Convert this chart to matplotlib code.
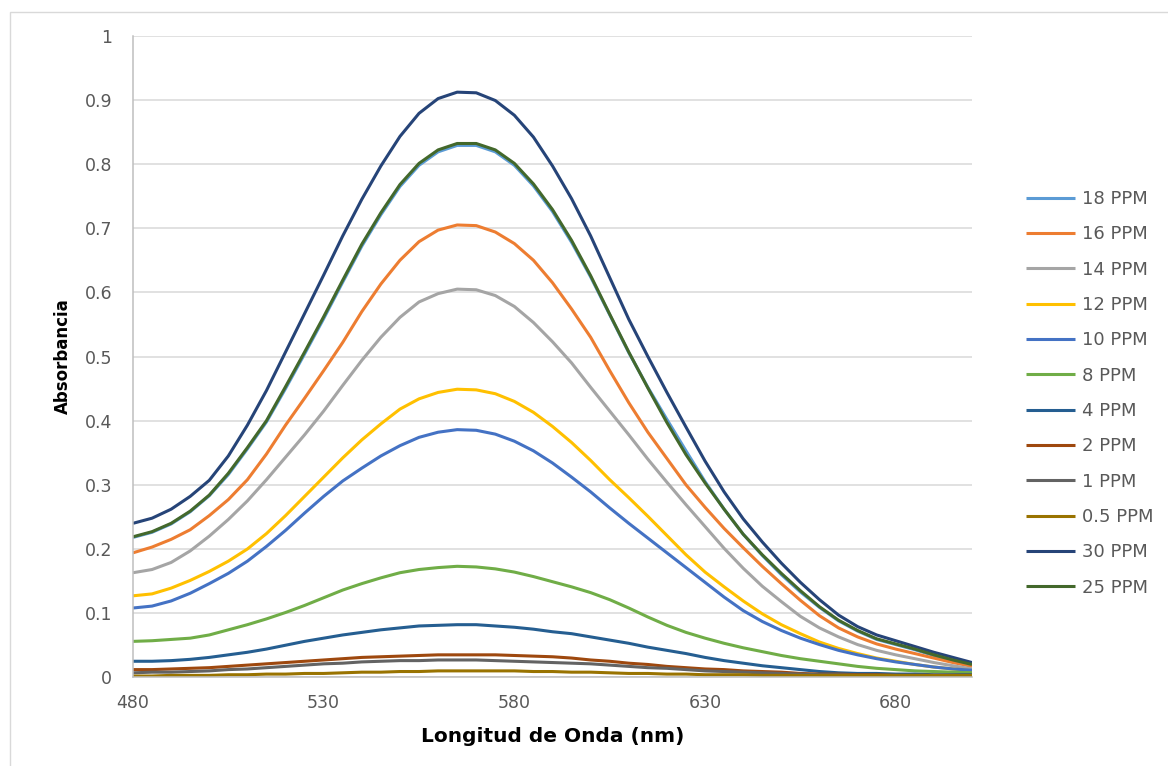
import matplotlib
matplotlib.use("Agg")
import matplotlib.pyplot as plt
from matplotlib.patches import Rectangle

# longitud de onda (nm), paso de 5 nm
wavelength = list(range(480, 705, 5))

ppm_18 = [0.218, 0.226, 0.239, 0.258, 0.283, 0.316, 0.356, 0.398, 0.450, 0.504,
          0.559, 0.616, 0.672, 0.721, 0.765, 0.798, 0.819, 0.829, 0.829, 0.819,
          0.798, 0.766, 0.726, 0.678, 0.624, 0.565, 0.506, 0.452, 0.402, 0.353,
          0.305, 0.262, 0.223, 0.190, 0.160, 0.133, 0.109, 0.088, 0.072, 0.059,
          0.051, 0.043, 0.034, 0.026, 0.019]
ppm_16 = [0.194, 0.203, 0.215, 0.230, 0.252, 0.277, 0.308, 0.348, 0.393, 0.435,
          0.478, 0.522, 0.570, 0.613, 0.650, 0.679, 0.697, 0.705, 0.704, 0.694,
          0.676, 0.650, 0.615, 0.574, 0.530, 0.478, 0.428, 0.382, 0.341, 0.300,
          0.265, 0.232, 0.202, 0.173, 0.146, 0.120, 0.096, 0.077, 0.063, 0.052,
          0.044, 0.037, 0.030, 0.023, 0.017]
ppm_14 = [0.163, 0.168, 0.179, 0.197, 0.220, 0.246, 0.275, 0.308, 0.343, 0.378,
          0.415, 0.455, 0.494, 0.530, 0.561, 0.585, 0.598, 0.605, 0.604, 0.595,
          0.578, 0.553, 0.523, 0.490, 0.452, 0.415, 0.378, 0.340, 0.304, 0.269,
          0.235, 0.201, 0.170, 0.142, 0.118, 0.095, 0.077, 0.063, 0.051, 0.042,
          0.035, 0.029, 0.023, 0.018, 0.013]
ppm_12 = [0.127, 0.130, 0.139, 0.151, 0.165, 0.181, 0.200, 0.224, 0.252, 0.282,
          0.312, 0.342, 0.370, 0.395, 0.418, 0.434, 0.444, 0.449, 0.448, 0.442,
          0.430, 0.413, 0.391, 0.366, 0.338, 0.308, 0.280, 0.251, 0.221, 0.191,
          0.164, 0.141, 0.119, 0.099, 0.082, 0.068, 0.055, 0.045, 0.037, 0.030,
          0.025, 0.020, 0.016, 0.013, 0.010]
ppm_10 = [0.108, 0.111, 0.119, 0.131, 0.146, 0.162, 0.181, 0.204, 0.229, 0.256,
          0.282, 0.306, 0.326, 0.345, 0.361, 0.374, 0.382, 0.386, 0.385, 0.379,
          0.368, 0.353, 0.334, 0.312, 0.289, 0.264, 0.240, 0.217, 0.194, 0.171,
          0.148, 0.125, 0.104, 0.087, 0.073, 0.061, 0.051, 0.042, 0.035, 0.029,
          0.024, 0.020, 0.016, 0.013, 0.011]
ppm_8 = [0.056, 0.057, 0.059, 0.061, 0.066, 0.074, 0.082, 0.091, 0.101, 0.112,
         0.124, 0.136, 0.146, 0.155, 0.163, 0.168, 0.171, 0.173, 0.172, 0.169,
         0.164, 0.157, 0.149, 0.141, 0.132, 0.121, 0.108, 0.094, 0.081, 0.070,
         0.061, 0.053, 0.046, 0.040, 0.034, 0.029, 0.025, 0.021, 0.017, 0.014,
         0.012, 0.010, 0.009, 0.008, 0.007]
ppm_4 = [0.025, 0.025, 0.026, 0.028, 0.031, 0.035, 0.039, 0.044, 0.050, 0.056,
         0.061, 0.066, 0.070, 0.074, 0.077, 0.080, 0.081, 0.082, 0.082, 0.080,
         0.078, 0.075, 0.071, 0.068, 0.063, 0.058, 0.053, 0.047, 0.042, 0.037,
         0.031, 0.026, 0.022, 0.018, 0.015, 0.012, 0.009, 0.007, 0.006, 0.006,
         0.005, 0.005, 0.004, 0.004, 0.004]
ppm_2 = [0.012, 0.012, 0.013, 0.014, 0.015, 0.017, 0.019, 0.021, 0.023, 0.025,
         0.027, 0.029, 0.031, 0.032, 0.033, 0.034, 0.035, 0.035, 0.035, 0.035,
         0.034, 0.033, 0.032, 0.030, 0.027, 0.025, 0.022, 0.020, 0.017, 0.015,
         0.013, 0.012, 0.010, 0.009, 0.008, 0.006, 0.005, 0.005, 0.004, 0.004,
         0.003, 0.003, 0.003, 0.003, 0.003]
ppm_1 = [0.007, 0.008, 0.008, 0.009, 0.010, 0.012, 0.013, 0.015, 0.017, 0.019,
         0.021, 0.022, 0.024, 0.025, 0.026, 0.026, 0.027, 0.027, 0.027, 0.026,
         0.025, 0.024, 0.023, 0.022, 0.021, 0.019, 0.017, 0.015, 0.014, 0.012,
         0.010, 0.009, 0.008, 0.007, 0.006, 0.005, 0.004, 0.004, 0.003, 0.003,
         0.003, 0.002, 0.002, 0.002, 0.002]
ppm_05 = [0.002, 0.002, 0.003, 0.003, 0.003, 0.004, 0.004, 0.005, 0.005, 0.006,
          0.006, 0.007, 0.008, 0.008, 0.009, 0.009, 0.010, 0.010, 0.010, 0.010,
          0.010, 0.009, 0.009, 0.008, 0.008, 0.007, 0.006, 0.006, 0.005, 0.005,
          0.004, 0.004, 0.004, 0.003, 0.003, 0.003, 0.003, 0.003, 0.003, 0.003,
          0.003, 0.003, 0.003, 0.003, 0.003]
ppm_30 = [0.240, 0.248, 0.262, 0.282, 0.307, 0.345, 0.393, 0.447, 0.507, 0.567,
          0.627, 0.688, 0.745, 0.797, 0.843, 0.879, 0.902, 0.912, 0.911, 0.899,
          0.876, 0.842, 0.797, 0.746, 0.688, 0.623, 0.558, 0.500, 0.444, 0.390,
          0.337, 0.289, 0.247, 0.211, 0.178, 0.148, 0.121, 0.097, 0.079, 0.066,
          0.057, 0.048, 0.039, 0.031, 0.023]
ppm_25 = [0.219, 0.227, 0.240, 0.259, 0.284, 0.318, 0.358, 0.400, 0.453, 0.507,
          0.562, 0.619, 0.675, 0.724, 0.768, 0.801, 0.822, 0.832, 0.832, 0.822,
          0.801, 0.769, 0.729, 0.681, 0.626, 0.566, 0.507, 0.451, 0.397, 0.347,
          0.303, 0.262, 0.223, 0.191, 0.162, 0.135, 0.110, 0.089, 0.073, 0.060,
          0.052, 0.044, 0.035, 0.027, 0.020]

series_labels = ["18 PPM", "16 PPM", "14 PPM", "12 PPM", "10 PPM", "8 PPM",
                 "4 PPM", "2 PPM", "1 PPM", "0.5 PPM", "30 PPM", "25 PPM"]
series_values = [ppm_18, ppm_16, ppm_14, ppm_12, ppm_10, ppm_8,
                 ppm_4, ppm_2, ppm_1, ppm_05, ppm_30, ppm_25]
series_colors = ["#5B9BD5", "#ED7D31", "#A5A5A5", "#FFC000", "#4472C4", "#70AD47",
                 "#255E91", "#9E480E", "#636363", "#997300", "#264478", "#43682B"]

x_ticks = [480, 530, 580, 630, 680]
y_ticks = [0, 0.1, 0.2, 0.3, 0.4, 0.5, 0.6, 0.7, 0.8, 0.9, 1]
y_tick_labels = ["0", "0.1", "0.2", "0.3", "0.4", "0.5", "0.6", "0.7", "0.8", "0.9", "1"]

TEXT_GRAY = "#595959"
GRID_GRAY = "#D9D9D9"


def style_axes(ax):
    """Ejes con aspecto de Excel"""
    ax.set_xlim(480, 700)
    ax.set_ylim(0, 1)
    ax.set_xticks(x_ticks)
    ax.set_yticks(y_ticks)
    ax.set_yticklabels(y_tick_labels)
    ax.tick_params(axis="both", length=0, labelsize=12.5, labelcolor=TEXT_GRAY)
    ax.tick_params(axis="y", pad=15)
    ax.tick_params(axis="x", pad=12)
    ax.grid(axis="y", color=GRID_GRAY, linewidth=1.1)
    ax.set_axisbelow(True)
    for side in ("top", "right"):
        ax.spines[side].set_visible(False)
    for side in ("left", "bottom"):
        ax.spines[side].set_color("#BFBFBF")
        ax.spines[side].set_linewidth(1.1)

    ax.set_xlabel("Longitud de Onda (nm)", fontsize=14.5, fontweight="bold", color="black")
    ax.xaxis.set_label_coords(0.5, -0.077)
    ax.set_ylabel("Absorbancia", fontsize=12, fontweight="bold", color="black")
    ax.yaxis.set_label_coords(-0.073, 0.5)


fig = plt.figure(figsize=(11.68, 7.66), dpi=100)
ax = fig.add_axes([133 / 1168, 1 - 677.3 / 766, (972 - 133) / 1168, (677.3 - 35.7) / 766])

for label, values, color in zip(series_labels, series_values, series_colors):
    ax.plot(wavelength, values, color=color, linewidth=2.2, label=label,
            solid_joinstyle="round", solid_capstyle="butt")

style_axes(ax)

handles, labels = ax.get_legend_handles_labels()
fig.legend(handles, labels, loc="upper left", bbox_to_anchor=(1026 / 1168, 1 - 190 / 766),
           frameon=False, fontsize=13, labelcolor=TEXT_GRAY, borderpad=0,
           borderaxespad=0, handlelength=2.7, handletextpad=0.4, labelspacing=0.96)

# marco exterior del grafico
fig.patches.append(Rectangle((10 / 1168, -0.1), 1.2, 1.1 - 12 / 766, transform=fig.transFigure,
                             fill=False, edgecolor=GRID_GRAY, linewidth=1.0, clip_on=False))

fig.savefig("out.png", dpi=100)
